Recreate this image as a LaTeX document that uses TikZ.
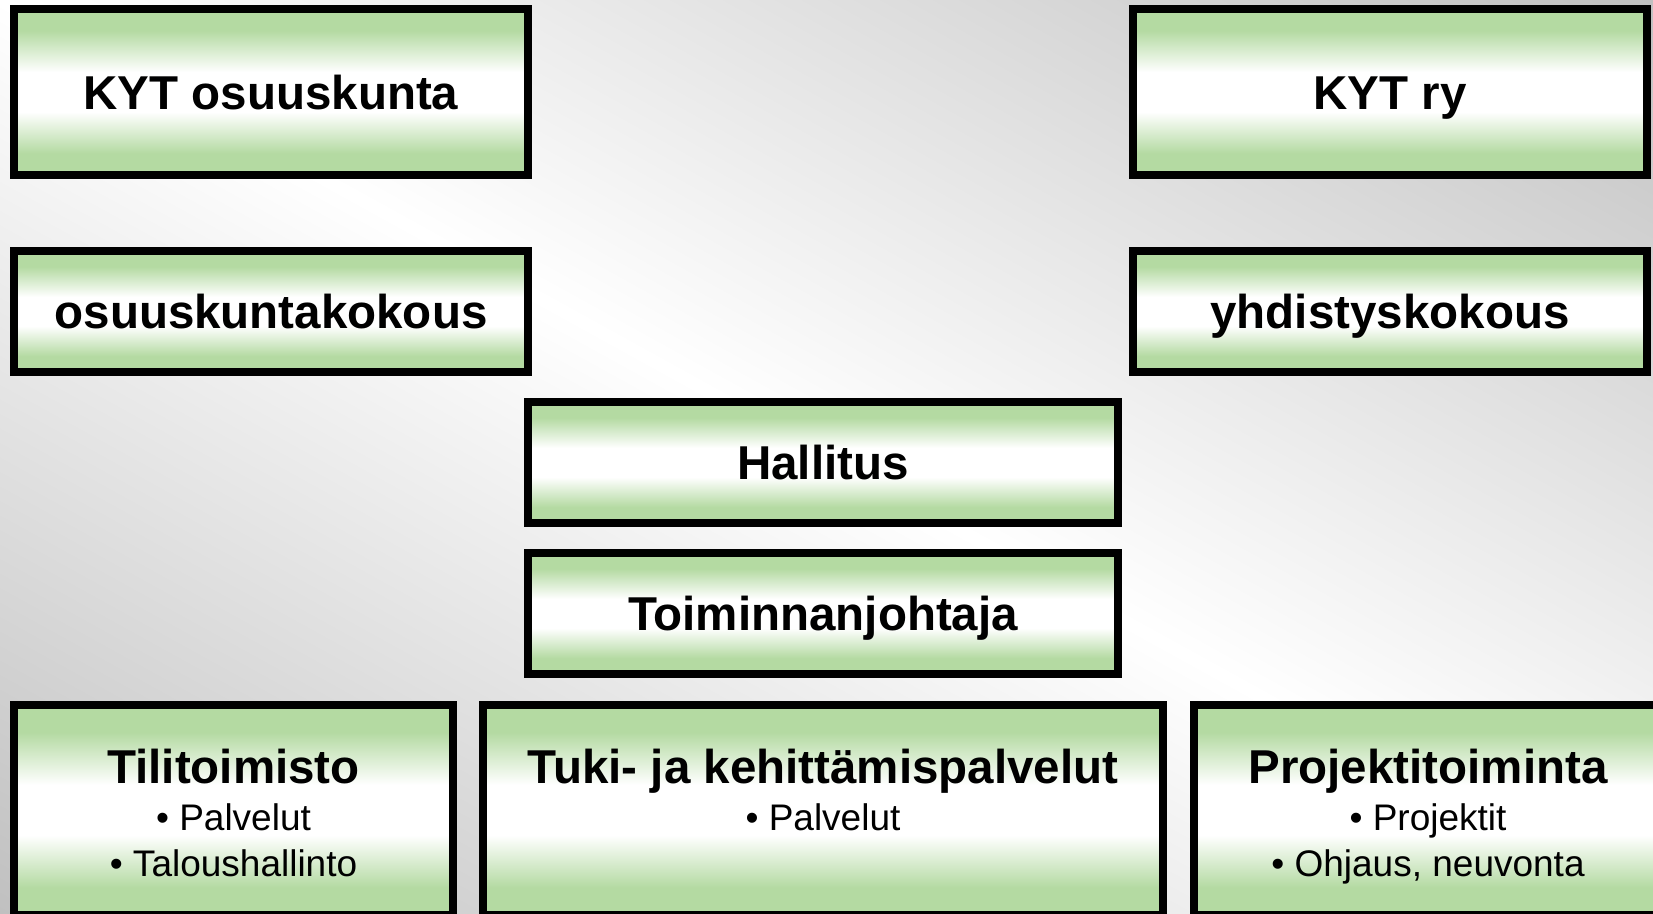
\documentclass[tikz,border=0pt]{standalone}
\usepackage{fontspec}
\setmainfont{Liberation Sans}
\definecolor{bgg}{RGB}{192,192,192}
\definecolor{boxgreen}{RGB}{180,218,162}
\pgfdeclareverticalshading{boxgrad}{100bp}{color(0bp)=(boxgreen); color(25bp)=(boxgreen); color(31.5bp)=(boxgreen); color(44bp)=(white); color(56bp)=(white); color(68.5bp)=(boxgreen); color(75bp)=(boxgreen); color(100bp)=(boxgreen)}
\tikzset{
  box/.style={draw=black, line width=8pt, shade, shading=boxgrad, inner sep=0pt, outer sep=0pt},
  ttl/.style={font=\bfseries\fontsize{47.5}{57}\selectfont, anchor=base, inner sep=0pt},
  bul/.style={font=\fontsize{37}{44}\selectfont, anchor=base, inner sep=0pt}
}
\begin{document}
\begin{tikzpicture}[x=1pt,y=1pt]
\useasboundingbox (0,0) rectangle (1653,913);
\begin{scope}
\clip (0,0) rectangle (1653,913);
\begin{scope}[transform canvas={shift={(826.5,456.5)},rotate=-28.91}]
\shade[top color=bgg,bottom color=bgg,middle color=white] (-1200,-800) rectangle (1200,800);
\end{scope}
% boxes
\node[box, minimum width=514, minimum height=166] (b1) at (271,821) {};
\node[box, minimum width=514, minimum height=121] (b2) at (271,601.5) {};
\node[box, minimum width=514, minimum height=166] (b3) at (1390,821) {};
\node[box, minimum width=514, minimum height=121] (b4) at (1390,601.5) {};
\node[box, minimum width=590, minimum height=121] (b5) at (823,450.5) {};
\node[box, minimum width=590, minimum height=121] (b6) at (823,299.5) {};
\node[box, minimum width=439, minimum height=210] (b7) at (233.5,103) {};
\node[box, minimum width=680, minimum height=210] (b8) at (823,103) {};
\node[box, minimum width=468, minimum height=210] (b9) at (1428,103) {};
% texts
\node[ttl] (t1) at (271,803) {KYT osuuskunta};
\node[ttl] (t2) at (271,584.5) {osuuskuntakokous};
\node[ttl] (t3) at (1390,803) {KYT ry};
\node[ttl] (t4) at (1390,584.5) {yhdistyskokous};
\node[ttl] (t5) at (823,433.5) {Hallitus};
\node[ttl] (t6) at (823,282.5) {Toiminnanjohtaja};
\node[ttl] (t7) at (233.5,130) {Tilitoimisto};
\node[bul] (t7a) at (233.5,83) {• Palvelut};
\node[bul] (t7b) at (233.5,37) {• Taloushallinto};
\node[ttl] (t8) at (823,130) {Tuki- ja kehittämispalvelut};
\node[bul] (t8a) at (823,83) {• Palvelut};
\node[ttl] (t9) at (1428,130) {Projektitoiminta};
\node[bul] (t9a) at (1428,83) {• Projektit};
\node[bul] (t9b) at (1428,37) {• Ohjaus, neuvonta};
\end{scope}
\end{tikzpicture}
\end{document}
